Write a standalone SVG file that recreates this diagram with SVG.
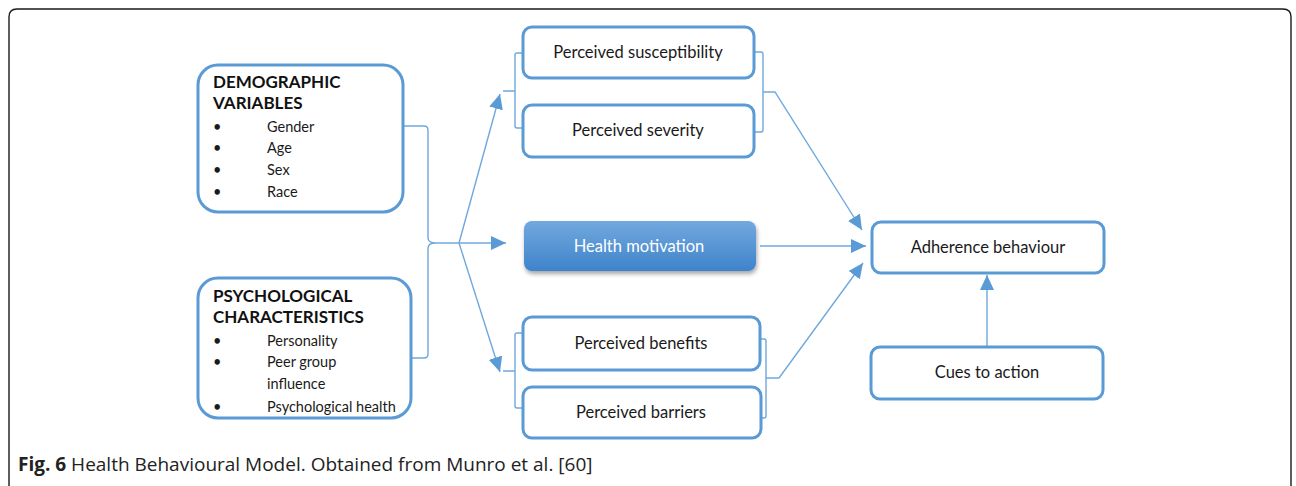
<svg xmlns="http://www.w3.org/2000/svg" width="1296" height="486" viewBox="0 0 1296 486">
<defs>
<style>
.box{fill:#fff;stroke:#5b9bd5;stroke-width:3}
.t{font-family:Lato,"Open Sans","DejaVu Sans",sans-serif;font-size:16.5px;fill:#1a1a1a}
.li{font-family:Lato,"Open Sans","DejaVu Sans",sans-serif;font-size:14.5px;fill:#1a1a1a}
.h{font-family:Lato,"Open Sans","DejaVu Sans",sans-serif;font-size:17px;font-weight:bold;fill:#111}
.c{text-anchor:middle}
.ln{fill:none;stroke:#6fa8dc;stroke-width:1.4}
.cap{font-family:"Open Sans","Noto Sans",sans-serif;font-size:19px;fill:#222}
</style>
<marker id="ah" markerUnits="userSpaceOnUse" markerWidth="16" markerHeight="14" refX="15" refY="7" orient="auto">
<path d="M0,0 L15,7 L0,14 Z" fill="#5b9bd5"/>
</marker>
<linearGradient id="hg" x1="0" y1="0" x2="0" y2="1">
<stop offset="0" stop-color="#72a9de"/>
<stop offset="1" stop-color="#3f83cb"/>
</linearGradient>
<filter id="sh" x="-10%" y="-20%" width="120%" height="150%">
<feDropShadow dx="1" dy="3" stdDeviation="2" flood-color="#000" flood-opacity="0.35"/>
</filter>
</defs>
<rect x="0" y="0" width="1296" height="486" fill="#fff"/>
<path d="M9,490 V17 Q9,9 17,9 H1283 Q1291,9 1291,17 V490" fill="none" stroke="#1a1a1a" stroke-width="1.4"/>

<g id="connectors">
<path class="ln" d="M404,126 H424 Q428,126 428,130 V238 Q428,243 436,243 Q428,243 428,248 V354 Q428,358 424,358 H411"/>
<path class="ln" d="M436,243 H506" marker-end="url(#ah)"/>
<path class="ln" d="M459,243 L500,94" marker-end="url(#ah)"/>
<path class="ln" d="M459,243 L500,372" marker-end="url(#ah)"/>
<path class="ln" d="M523,53 H517 Q515,53 515,55 V126 Q515,128 517,128 H523 M503,91 H515"/>
<path class="ln" d="M523,333 H517 Q515,333 515,335 V406 Q515,408 517,408 H523 M503,371 H515"/>
<path class="ln" d="M754,52 H761 Q763,52 763,54 V130 Q763,132 761,132 H755"/>
<path class="ln" d="M763,92 H775 L862,230" marker-end="url(#ah)"/>
<path class="ln" d="M760,339 H764 Q766,339 766,341 V416 Q766,418 764,418 H761"/>
<path class="ln" d="M766,378 H779 L863,263" marker-end="url(#ah)"/>
<path class="ln" d="M760,246 H866" marker-end="url(#ah)"/>
<path class="ln" d="M987,347 V275" marker-end="url(#ah)"/>
</g>

<g id="demographic">
<rect class="box" x="198" y="65" width="205" height="147" rx="20"/>
<text class="h" x="213" y="88">DEMOGRAPHIC</text>
<text class="h" x="213" y="109">VARIABLES</text>
<text class="li" x="213" y="132">•</text><text class="li" x="267" y="132">Gender</text>
<text class="li" x="213" y="153">•</text><text class="li" x="267" y="153">Age</text>
<text class="li" x="213" y="175">•</text><text class="li" x="267" y="175">Sex</text>
<text class="li" x="213" y="197">•</text><text class="li" x="267" y="197">Race</text>
</g>

<g id="psychological">
<rect class="box" x="198" y="278" width="213" height="140" rx="20"/>
<text class="h" x="213" y="302">PSYCHOLOGICAL</text>
<text class="h" x="213" y="323">CHARACTERISTICS</text>
<text class="li" x="213" y="346">•</text><text class="li" x="267" y="346">Personality</text>
<text class="li" x="213" y="367">•</text><text class="li" x="267" y="367">Peer group</text>
<text class="li" x="267" y="389">influence</text>
<text class="li" x="213" y="412">•</text><text class="li" x="267" y="412">Psychological health</text>
</g>

<g id="susceptibility">
<rect class="box" x="523" y="27" width="231" height="51" rx="9"/>
<text class="t c" x="638" y="58">Perceived susceptibility</text>
</g>
<g id="severity">
<rect class="box" x="523" y="105" width="231" height="52" rx="9"/>
<text class="t c" x="638" y="136">Perceived severity</text>
</g>
<g id="motivation">
<rect x="524" y="221" width="232" height="50" rx="8" fill="url(#hg)" filter="url(#sh)"/>
<text class="t c" x="639" y="252" style="fill:#fff">Health motivation</text>
</g>
<g id="benefits">
<rect class="box" x="523" y="317" width="237" height="53" rx="9"/>
<text class="t c" x="641" y="349">Perceived benefits</text>
</g>
<g id="barriers">
<rect class="box" x="523" y="387" width="238" height="51" rx="9"/>
<text class="t c" x="641" y="418">Perceived barriers</text>
</g>
<g id="adherence">
<rect class="box" x="872" y="222" width="232" height="51" rx="9"/>
<text class="t c" x="988" y="253">Adherence behaviour</text>
</g>
<g id="cues">
<rect class="box" x="871" y="347" width="232" height="52" rx="9"/>
<text class="t c" x="987" y="378">Cues to action</text>
</g>

<g id="caption">
<text class="cap" x="18" y="471"><tspan font-weight="bold">Fig. 6</tspan> Health Behavioural Model. Obtained from Munro et al. [60]</text>
</g>
</svg>
